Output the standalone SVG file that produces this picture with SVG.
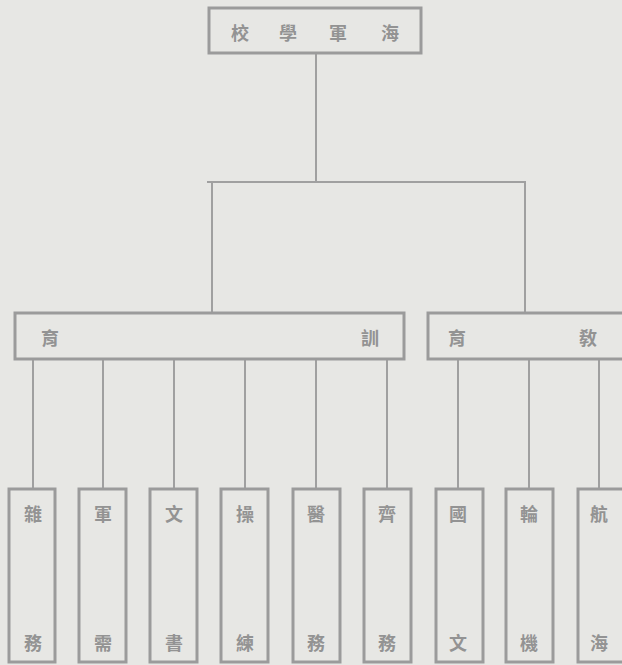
<svg xmlns="http://www.w3.org/2000/svg" width="622" height="665" viewBox="0 0 622 665">
<style>
.bg{fill:#e7e7e4}
.box{fill:none;stroke:#9b9b9b;stroke-width:3}
.ln{fill:none;stroke:#a0a0a0;stroke-width:2}
.t{font-family:"Noto Sans CJK TC","Noto Sans CJK SC",sans-serif;font-size:18px;fill:#939393;text-anchor:middle;dominant-baseline:central;font-weight:bold}
</style>
<rect class="bg" x="0" y="0" width="622" height="665"/>
<g id="connectors">
<path class="ln" d="M316 53V182M207 182H526M212 182V313M525 182V313"/>
<path class="ln" d="M33 360V489M103 360V489M174 360V489M245 360V489M316 360V489M387 360V489M458 360V489M529 360V489M599 360V489"/>
</g>
<g id="school"><rect class="box" x="209" y="8" width="212" height="45"/>
<text class="t" x="240" y="32">校</text><text class="t" x="288" y="32">學</text><text class="t" x="338" y="32">軍</text><text class="t" x="390" y="32">海</text></g>
<g id="xunyu"><rect class="box" x="15" y="313" width="389" height="46"/>
<text class="t" x="50" y="337">育</text><text class="t" x="370" y="337">訓</text></g>
<g id="jiaoyu"><rect class="box" x="428" y="313" width="200" height="46"/>
<text class="t" x="457" y="337">育</text><text class="t" x="588" y="337">敎</text></g>
<g id="n1"><rect class="box" x="9" y="489" width="46" height="173"/><text class="t" x="33" y="513">雜</text><text class="t" x="33" y="642">務</text></g>
<g id="n2"><rect class="box" x="79" y="489" width="47" height="173"/><text class="t" x="103" y="513">軍</text><text class="t" x="103" y="642">需</text></g>
<g id="n3"><rect class="box" x="150" y="489" width="47" height="173"/><text class="t" x="174" y="513">文</text><text class="t" x="174" y="642">書</text></g>
<g id="n4"><rect class="box" x="221" y="489" width="47" height="173"/><text class="t" x="245" y="513">操</text><text class="t" x="245" y="642">練</text></g>
<g id="n5"><rect class="box" x="293" y="489" width="47" height="173"/><text class="t" x="316" y="513">醫</text><text class="t" x="316" y="642">務</text></g>
<g id="n6"><rect class="box" x="364" y="489" width="47" height="173"/><text class="t" x="387" y="513">齊</text><text class="t" x="387" y="642">務</text></g>
<g id="n7"><rect class="box" x="436" y="489" width="47" height="173"/><text class="t" x="458" y="513">國</text><text class="t" x="458" y="642">文</text></g>
<g id="n8"><rect class="box" x="506" y="489" width="47" height="173"/><text class="t" x="529" y="513">輪</text><text class="t" x="529" y="642">機</text></g>
<g id="n9"><rect class="box" x="578" y="489" width="46" height="173"/><text class="t" x="599" y="513">航</text><text class="t" x="599" y="642">海</text></g>
</svg>
